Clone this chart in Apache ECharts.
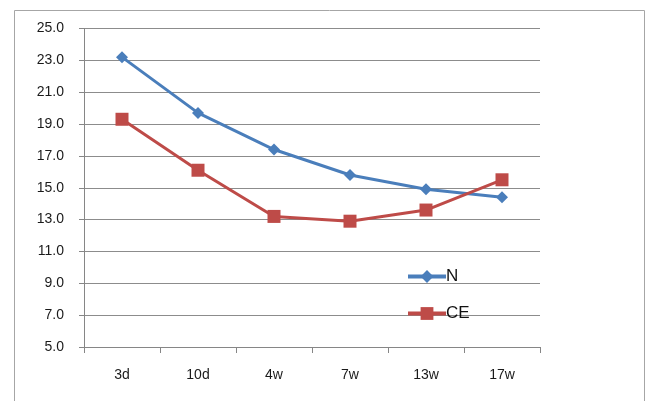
<!DOCTYPE html>
<html><head><meta charset="utf-8">
<script src="https://cdn.jsdelivr.net/npm/echarts@6/dist/echarts.min.js"></script>
<style>html,body{margin:0;padding:0;background:#fff}#c{width:647px;height:401px}</style>
</head><body><div id="c"></div>
<script>
const categories = ['3d','10d','4w','7w','13w','17w'];
const seriesN = [23.2, 19.7, 17.4, 15.8, 14.9, 14.4];
const seriesCE = [19.3, 16.1, 13.2, 12.9, 13.6, 15.5];
const yMin = 5, yMax = 25, yStep = 2;

const chart = echarts.init(document.getElementById('c'));
const font = 'Liberation Sans, Arial, sans-serif';
chart.setOption({
  animation: false,
  graphic: [{
    type: 'rect', shape: {x: 14.5, y: 10.5, width: 630, height: 400},
    style: {fill: 'none', stroke: '#a6a6a6', lineWidth: 1}, silent: true
  }],
  grid: {left: 84, top: 28.5, width: 456, height: 318.5, containLabel: false},
  legend: {
    orient: 'vertical', left: 401, top: 263,
    itemWidth: 38, itemHeight: 16, itemGap: 20,
    textStyle: {fontFamily: font, fontSize: 17, color: '#111', padding: [0,0,0,-5]},
    data: [
      {name: 'N', itemStyle: {color: '#4a7ebb'}, lineStyle: {width: 4, color: '#4a7ebb'}},
      {name: 'CE', itemStyle: {color: '#be4b48'}, lineStyle: {width: 4, color: '#be4b48'}}
    ]
  },
  xAxis: {
    type: 'category', data: categories, boundaryGap: true,
    axisLine: {lineStyle: {color: '#868686', width: 1}},
    axisTick: {show: true, length: 6, lineStyle: {color: '#868686'}},
    axisLabel: {margin: 21, fontFamily: font, fontSize: 14, color: '#1a1a1a'}
  },
  yAxis: {
    type: 'value', min: yMin, max: yMax, interval: yStep,
    axisLine: {show: true, lineStyle: {color: '#868686', width: 1}},
    axisTick: {show: true, length: 5, lineStyle: {color: '#868686'}},
    splitLine: {lineStyle: {color: '#8c8c8c', width: 1}},
    axisLabel: {margin: 20, fontFamily: font, fontSize: 14, color: '#1a1a1a',
      formatter: v => v.toFixed(1)}
  },
  series: [
    {name: 'N', type: 'line', data: seriesN, symbol: 'diamond', symbolSize: 12,
      lineStyle: {color: '#4a7ebb', width: 3}, itemStyle: {color: '#4a7ebb'}},
    {name: 'CE', type: 'line', data: seriesCE, symbol: 'rect', symbolSize: 13,
      lineStyle: {color: '#be4b48', width: 3}, itemStyle: {color: '#be4b48'}}
  ]
});
</script></body></html>
